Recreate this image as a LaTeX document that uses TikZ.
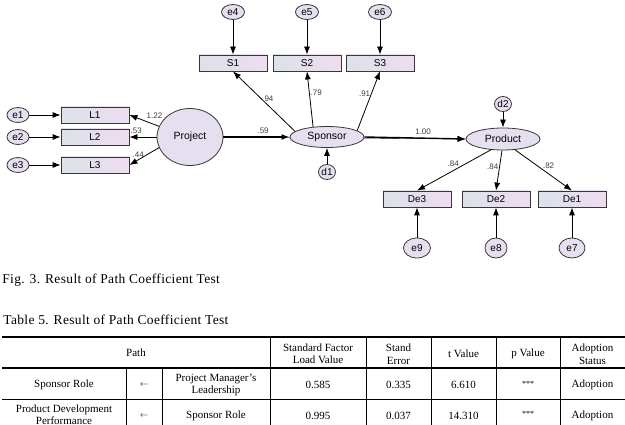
\documentclass[tikz,border=0pt]{standalone}
\usepackage{fontspec}
\setmainfont{Liberation Serif}
\setsansfont{Liberation Sans}
\newfontfamily\capserif[LetterSpace=2.5]{Liberation Serif}
\usetikzlibrary{shapes, shapes.geometric, arrows.meta, positioning, backgrounds}

\definecolor{latfill}{HTML}{E6DFEF}
\definecolor{obsleft}{HTML}{DCE2E8}
\definecolor{obsright}{HTML}{EEDCF0}
\definecolor{edgegray}{HTML}{383838}

\begin{document}
\begin{tikzpicture}[
        x = 1pt, y = -1pt,
        > = {Latex[width=6pt,length=8pt]},
        line width = 0.8pt,
        latent/.style = {
            draw = edgegray,
            ellipse,
            fill = latfill,
            inner sep = 0pt,
            font = \sffamily\fontsize{10.5}{12}\selectfont
        },
        err/.style = {
            latent,
            minimum width = 22pt,
            minimum height = 15pt,
            font = \sffamily\fontsize{10}{12}\selectfont
        },
        obs/.style = {
            draw = edgegray,
            rectangle,
            minimum width = 68pt,
            minimum height = 16pt,
            inner sep = 0pt,
            left color = obsleft,
            right color = obsright,
            font = \sffamily\fontsize{10}{12}\selectfont
        },
        coef/.style = {inner sep = 1pt, text = black!75, font = \sffamily\fontsize{8}{9}\selectfont},
        tabrule/.style = {line width = 2pt},
        tabline/.style = {line width = 0.6pt},
        tabcell/.style = {align = center, inner sep = 0pt, font = \fontsize{11}{12.5}\selectfont},
        captext/.style = {anchor = west, inner sep = 0pt, font = \capserif\fontsize{13.5}{15}\selectfont}
    ]

        \clip (0,0) rectangle (625,425);

        \node[latent, minimum width=66pt, minimum height=57pt] (project) at (190,137) {Project};
        \node[latent, minimum width=74pt, minimum height=21pt] (sponsor) at (327,137) {Sponsor};
        \node[latent, minimum width=74pt, minimum height=22pt] (product) at (503,139) {Product};

        \node[obs] (L1) at (95,115) {L1};
        \node[obs] (L2) at (95,137) {L2};
        \node[obs] (L3) at (95,165) {L3};
        \node[obs] (S1) at (233,63) {S1};
        \node[obs] (S2) at (307,63) {S2};
        \node[obs] (S3) at (380,63) {S3};
        \node[obs] (De3) at (417,199) {De3};
        \node[obs] (De2) at (496,199) {De2};
        \node[obs] (De1) at (572,199) {De1};

        \node[err] (e1) at (18,115) {e1};
        \node[err] (e2) at (18,137) {e2};
        \node[err] (e3) at (18,165) {e3};
        \node[err, minimum width=23pt] (e4) at (233,12) {e4};
        \node[err, minimum width=23pt] (e5) at (307,12) {e5};
        \node[err, minimum width=23pt] (e6) at (380,12) {e6};
        \node[err, minimum width=27pt, minimum height=20pt] (e9) at (417,248) {e9};
        \node[err, minimum width=22pt, minimum height=20pt] (e8) at (496,248) {e8};
        \node[err, minimum width=26pt, minimum height=20pt] (e7) at (572,248) {e7};
        \node[err, minimum width=17pt] (d1) at (327,172) {d1};
        \node[err, minimum width=17pt] (d2) at (503,104) {d2};

        \begin{scope}[on background layer]
            \fill[white] (0,0) rectangle (625,425);
            \draw[->] (project.east) -- node[coef, pos=0.535, above] (cPP) {.04} (product.west);
        \end{scope}

        \draw[->] (e1) -- (L1);
        \draw[->] (e2) -- (L2);
        \draw[->] (e3) -- (L3);
        \draw[->] (e4) -- (S1);
        \draw[->] (e5) -- (S2);
        \draw[->] (e6) -- (S3);
        \draw[->] (e9) -- (De3);
        \draw[->] (e8) -- (De2);
        \draw[->] (e7) -- (De1);
        \draw[->] (d1) -- (sponsor);
        \draw[->] (d2) -- (product);

        \draw[->] (project.161) -- node[coef, pos=0.15, above=5pt] (cL1) {1.22} (L1.east);
        \draw[->] (project.west) -- node[coef, pos=0.75, above=2pt] (cL2) {.53} (L2.east);
        \draw[->] (project.199) -- node[coef, pos=0.7, above=1pt] (cL3) {.44} (L3.east);

        \draw[->] (sponsor.170) -- node[coef, pos=0.55, right] (cS1) {.94} (S1.south);
        \draw[->] (sponsor.144) -- node[coef, pos=0.62, right] (cS2) {.79} (S2.south);
        \draw[->] (sponsor.12) -- node[coef, pos=0.63, left] (cS3) {.91} (S3.south);

        \draw[->, line width=1.6pt] (project.east) -- node[coef, pos=0.6, above=2pt] (cPS) {.59} (sponsor.west);
        \draw[->, line width=1.4pt] (sponsor.east) -- node[coef, pos=0.58, above=2pt] (cSP) {1.00} (product.west);

        \draw[->] (product.222) -- node[coef, pos=0.35, left=5pt] (cDe3) {.84} (De3.north);
        \draw[->] (product.265) -- node[coef, pos=0.4, left] (cDe2) {.84} (De2.north);
        \draw[->] (product.318) -- node[coef, pos=0.38, right=5pt] (cDe1) {.82} (De1.north);

        \node[captext] (figcap) at (2,280) {Fig. 3. Result of Path Coefficient Test};
        \node[captext] (tabcap) at (3,320) {Table 5. Result of Path Coefficient Test};

        \draw[tabrule] (2,337) -- (625,337);
        \draw[tabrule] (2,368) -- (625,368);
        \draw[tabline] (2,399) -- (625,399);
        \foreach \xc in {270,366,431,496,560}
            \draw[tabline] (\xc,337) -- (\xc,425);
        \foreach \xc in {126,162}
            \draw[tabline] (\xc,368) -- (\xc,425);

        \node[tabcell] (hPath) at (136,353) {Path};
        \node[tabcell] (hLoad) at (318,354) {Standard Factor\\Load Value};
        \node[tabcell] (hErr) at (398.5,354) {Stand\\Error};
        \node[tabcell] (hT) at (463.5,354) {t Value};
        \node[tabcell] (hP) at (528,354) {p Value};
        \node[tabcell] (hAdopt) at (592.5,354) {Adoption\\Status};

        \node[tabcell] (rOneDep) at (64,385) {Sponsor Role};
        \node[tabcell] (rOneArr) at (144,385) {\fontsize{8}{9}\selectfont$\leftarrow$};
        \node[tabcell] (rOneInd) at (216,385) {Project Manager's\\Leadership};
        \node[tabcell] (rOneLoad) at (318,385) {0.585};
        \node[tabcell] (rOneErr) at (398.5,385) {0.335};
        \node[tabcell] (rOneT) at (463.5,385) {6.610};
        \node[tabcell, font=\fontsize{8}{9}\selectfont] (rOneP) at (528,383.5) {***};
        \node[tabcell] (rOneAdopt) at (592.5,385) {Adoption};

        \node[tabcell] (rTwoDep) at (64,414.5) {Product Development\\Performance};
        \node[tabcell] (rTwoArr) at (144,415.5) {\fontsize{8}{9}\selectfont$\leftarrow$};
        \node[tabcell] (rTwoInd) at (216,415.5) {Sponsor Role};
        \node[tabcell] (rTwoLoad) at (318,415.5) {0.995};
        \node[tabcell] (rTwoErr) at (398.5,415.5) {0.037};
        \node[tabcell] (rTwoT) at (463.5,415.5) {14.310};
        \node[tabcell, font=\fontsize{8}{9}\selectfont] (rTwoP) at (528,414) {***};
        \node[tabcell] (rTwoAdopt) at (592.5,415.5) {Adoption};

    \end{tikzpicture}
\end{document}
